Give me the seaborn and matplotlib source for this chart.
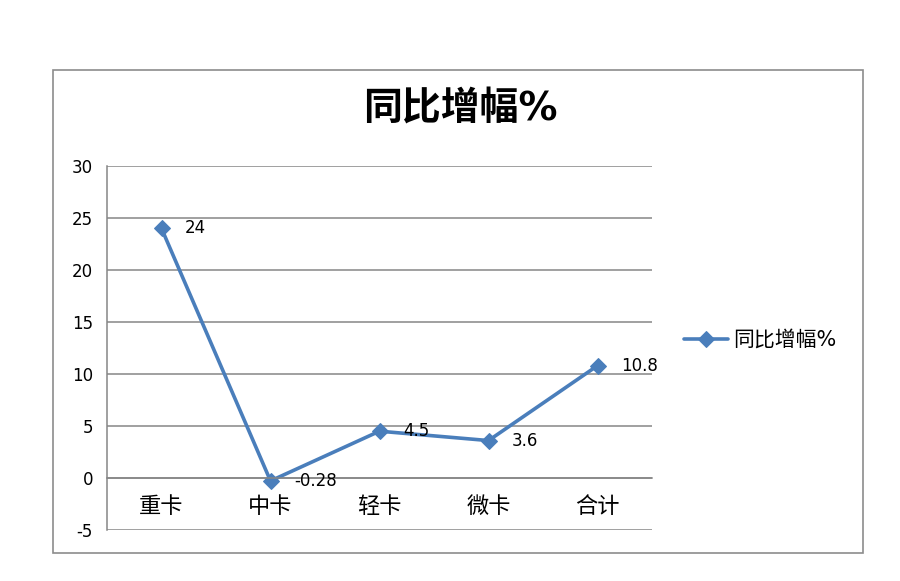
import matplotlib
matplotlib.use("Agg")
import matplotlib.pyplot as plt
import seaborn as sns
import pandas as pd
from matplotlib.patches import Rectangle
from matplotlib.ticker import FixedLocator

# === 数据 ===
categories = ["重卡", "中卡", "轻卡", "微卡", "合计"]
values = [24, -0.28, 4.5, 3.6, 10.8]
value_labels = ["24", "-0.28", "4.5", "3.6", "10.8"]
series_name = "同比增幅%"
y_ticks = [-5, 0, 5, 10, 15, 20, 25, 30]

df = pd.DataFrame({"cat": categories, "val": values})

sns.set_style("white")
plt.rcParams["font.family"] = ["DejaVu Sans", "Noto Sans CJK SC"]
plt.rcParams["axes.unicode_minus"] = False
plt.rcParams["text.color"] = "black"
plt.rcParams["xtick.color"] = "black"
plt.rcParams["ytick.color"] = "black"

line_color = "#4A7EBB"
grid_color = "#868686"

fig = plt.figure(figsize=(9, 5.81), dpi=100)
ax = fig.add_axes([107 / 900, 1 - 530 / 581, 545 / 900, 364 / 581])

# 外框
fig.patches.append(Rectangle((53 / 900, 1 - 553 / 581), 810 / 900, 483 / 581,
                             transform=fig.transFigure, fill=False,
                             edgecolor="#8c8c8c", linewidth=1.2))

sns.lineplot(data=df, x="cat", y="val", ax=ax, color=line_color, linewidth=2.6,
             marker="D", markersize=8, markeredgecolor=line_color,
             label=series_name, sort=False)

ax.set_xlim(-0.5, len(categories) - 0.5)
ax.set_ylim(-5, 30)
ax.set_yticks(y_ticks)
ax.yaxis.grid(True, color=grid_color, linewidth=1.1)
ax.set_axisbelow(True)
ax.set_xlabel("")
ax.set_ylabel("")

for side in ["top", "right"]:
    ax.spines[side].set_visible(False)
ax.spines["left"].set_color(grid_color)
ax.spines["left"].set_linewidth(1.1)
ax.spines["bottom"].set_position(("data", 0))
ax.spines["bottom"].set_color(grid_color)
ax.spines["bottom"].set_linewidth(1.1)

ax.tick_params(axis="y", direction="out", length=4, width=1.1, color=grid_color,
               labelcolor="black", labelsize=12, pad=6)
ax.tick_params(axis="x", which="major", length=0, labelsize=16, labelcolor="black",
               pad=13)
ax.xaxis.set_minor_locator(FixedLocator([i + 0.5 for i in range(len(categories) - 1)]))
ax.tick_params(axis="x", which="minor", direction="out", length=4, width=1.1,
               color=grid_color)

# 数据标签
for i, (v, t) in enumerate(zip(values, value_labels)):
    ax.annotate(t, (i, v), xytext=(17, 0), textcoords="offset points",
                ha="left", va="center", fontsize=12, color="black")

fig.text(460 / 900, 1 - 110 / 581, "同比增幅%", ha="center", va="center",
         fontsize=28, fontweight="bold", color="black")

ax.legend(loc="center left", bbox_to_anchor=(676 / 900, 1 - 340 / 581),
          bbox_transform=fig.transFigure, frameon=False, fontsize=15,
          handlelength=2.1, handletextpad=0.25, borderaxespad=0)

fig.savefig("out.png", dpi=100)
